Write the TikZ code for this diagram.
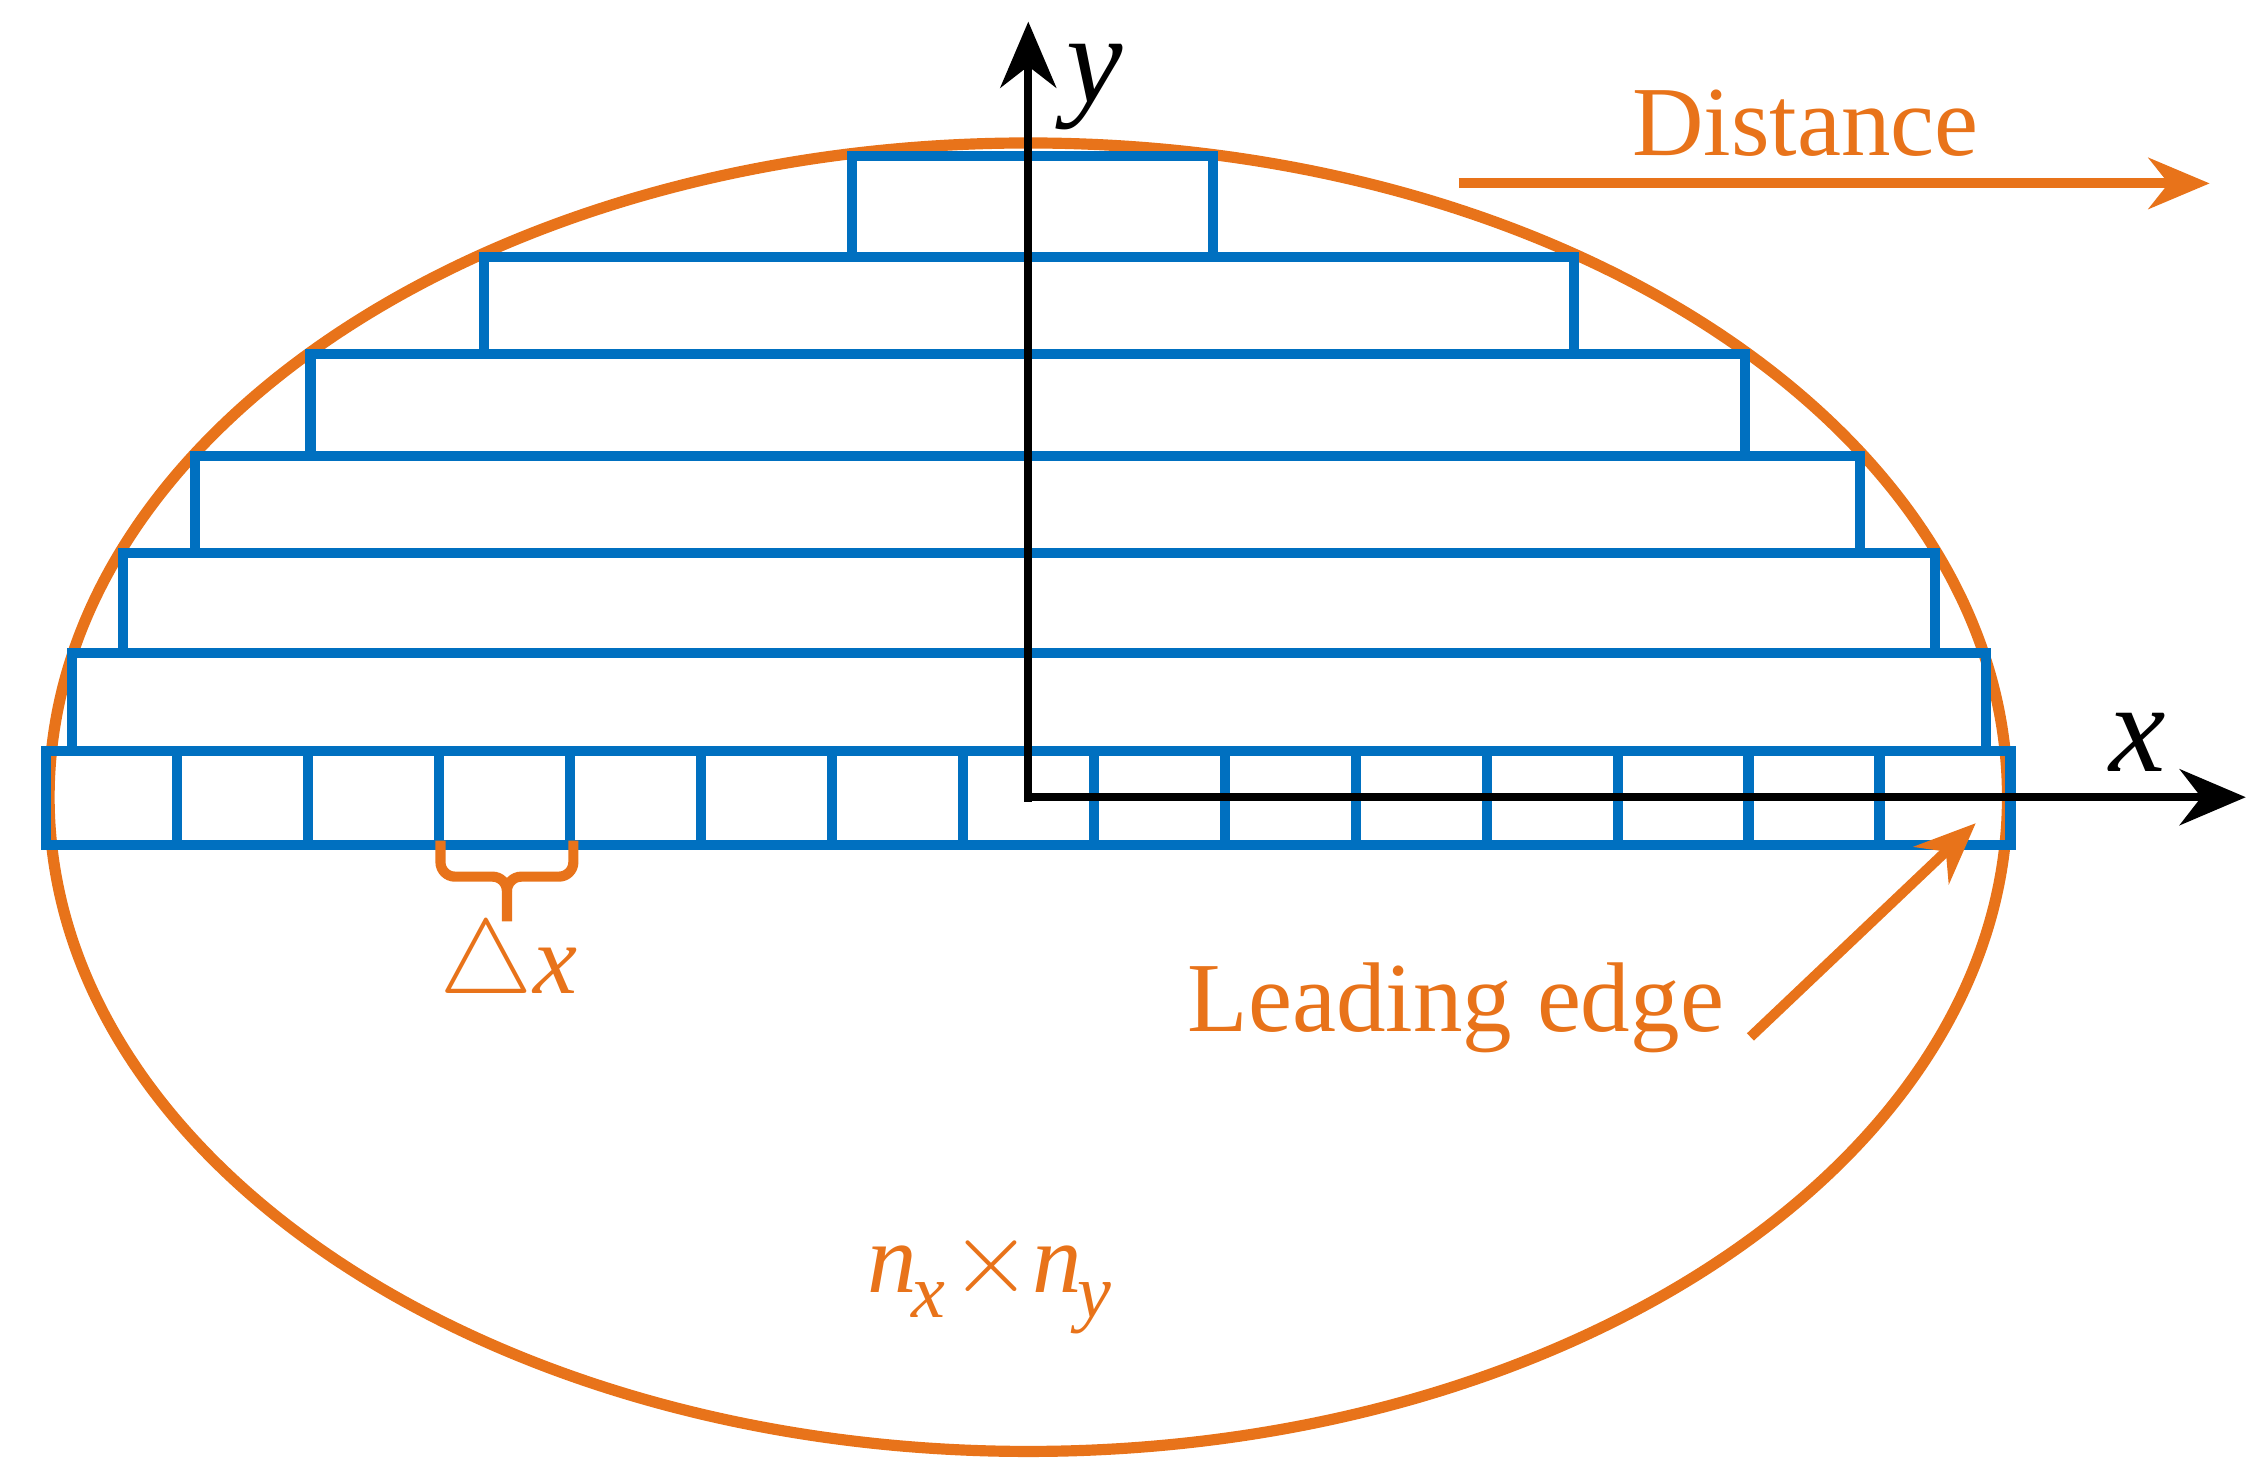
\documentclass[tikz,border=0pt]{standalone}
\usepackage{fontspec}
\setmainfont{Liberation Serif}
\usetikzlibrary{arrows.meta}
\definecolor{org}{RGB}{232,115,26}
\definecolor{blu}{RGB}{0,112,192}
\begin{document}
\begin{tikzpicture}[x=0.01cm,y=-0.01cm,
  cell/.style={draw=blu,line width=2pt},
  axis/.style={draw=black,line width=1.6pt,-{Stealth[length=13pt,width=11pt]}},
  oarr/.style={draw=org,line width=2pt,-{Stealth[length=12pt,width=10pt]}},
  otxt/.style={text=org,font=\fontsize{19.5}{23}\selectfont}]
\useasboundingbox (0,0) rectangle (1560,1025);
\draw[org,line width=2.2pt] (712,552) ellipse [x radius=678,y radius=453];
% rows
\draw[cell] (50,452) rectangle (1375,520);
\draw[cell] (85,383) rectangle (1340,452);
\draw[cell] (135,316) rectangle (1288,383);
\draw[cell] (215,245) rectangle (1208,316);
\draw[cell] (335,178) rectangle (1090,245);
\draw[cell] (590,108) rectangle (840,178);
\foreach \i in {0,...,14}{
  \draw[cell] ({32+\i*90.67},520) rectangle ({32+(\i+1)*90.67},585);
}
% axes
\coordinate (o) at (712,552);
\coordinate (ye) at (712,15);
\coordinate (xe) at (1555,552);
\draw[axis] (712,555) -- (ye);
\draw[axis] (o) -- (xe);
\node (ylab) at (758,60) {\fontsize{25}{30}\selectfont\itshape y};
\node (xlab) at (1480,514) {\fontsize{25}{30}\selectfont\itshape x};
% distance
\node[otxt] (dist) at (1250,85) {Distance};
\coordinate (d1) at (1010,127);
\coordinate (d2) at (1530,127);
\draw[oarr] (d1) -- (d2);
% leading edge
\node[otxt] (le) at (1008,698) {Leading edge};
\coordinate (l1) at (1212,718);
\coordinate (l2) at (1368,570);
\draw[oarr] (l1) -- (l2);
% brace
\draw[org,line width=2pt] (305,582) -- (305,597) arc[start angle=180,end angle=90,radius=10] -- (341,607) arc[start angle=270,end angle=360,radius=10] -- (351,638);
\draw[org,line width=2pt] (397,582) -- (397,597) arc[start angle=0,end angle=90,radius=10] -- (361,607) arc[start angle=270,end angle=180,radius=10];
\node[otxt] (dx) at (352,670) {$\triangle$\itshape x};
\node[otxt] (n) at (685,888) {\itshape n\kern-1pt\raisebox{-5pt}{\fontsize{15}{16}\selectfont x}\kern1pt$\times$\itshape n\kern-1pt\raisebox{-5pt}{\fontsize{15}{16}\selectfont y}};
\end{tikzpicture}
\end{document}
